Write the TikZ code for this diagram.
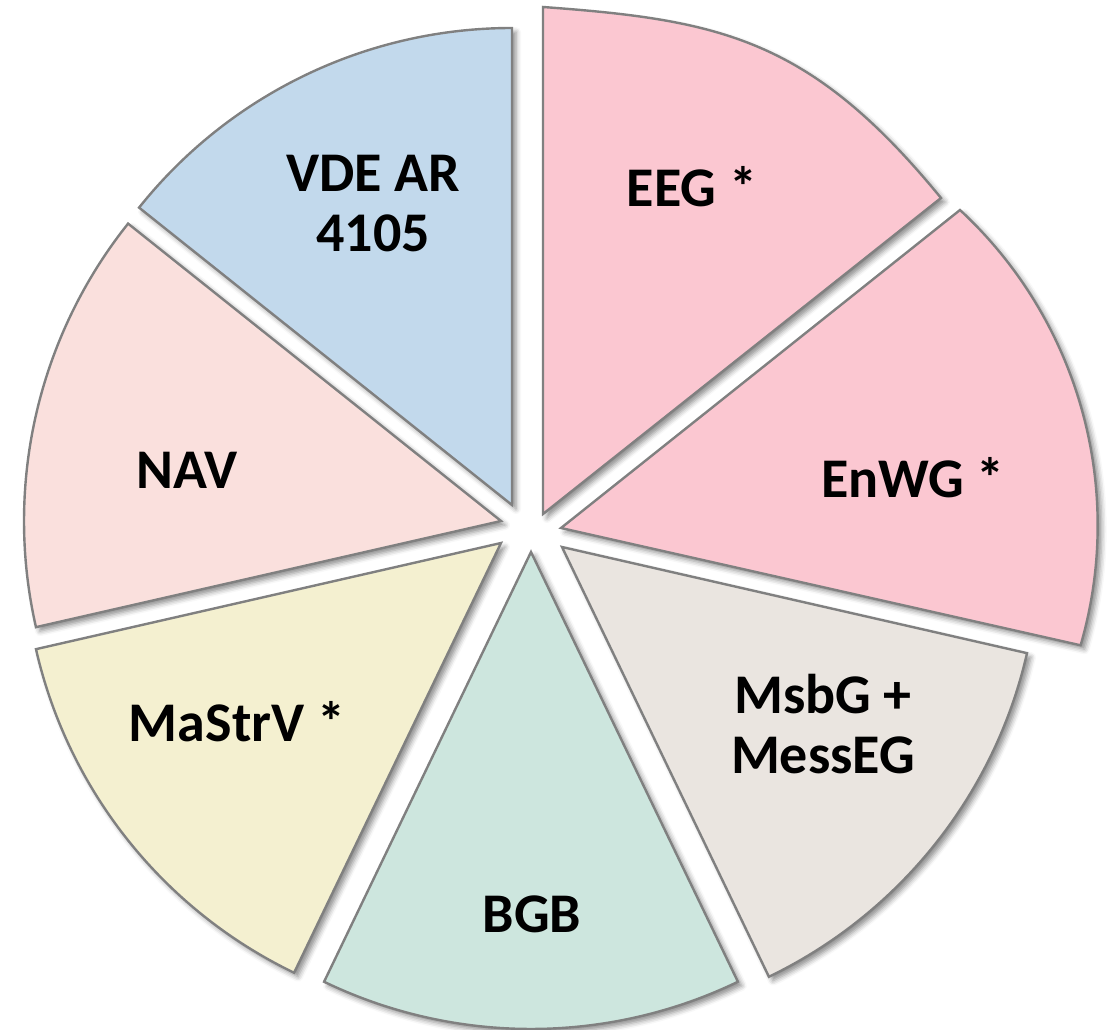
\documentclass[tikz,border=0pt]{standalone}
\usepackage{fontspec}
\setmainfont{Carlito}
\usetikzlibrary{shadows.blur}

\definecolor{edgegray}{RGB}{128,128,128}
\definecolor{cPink}{RGB}{251,199,209}
\definecolor{cVDE}{RGB}{194,217,236}
\definecolor{cNAV}{RGB}{250,224,221}
\definecolor{cMaStrV}{RGB}{244,240,208}
\definecolor{cBGB}{RGB}{205,230,222}
\definecolor{cMsbG}{RGB}{234,229,224}

\begin{document}
\begin{tikzpicture}[x=1pt,y=-1pt,
  slice/.style={draw=edgegray, line width=2.4pt, line join=miter,
    blur shadow={shadow xshift=4pt, shadow yshift=-4pt,
      shadow blur radius=5pt, shadow opacity=45}},
  lbl/.style={font=\fontsize{56}{60}\selectfont\bfseries, align=center,
    anchor=base, inner sep=0pt}]
\useasboundingbox (0,0) rectangle (1109,1030);

% slice centres (apexes)
\coordinate (aVDE) at (512,505);
\coordinate (aNAV) at (501,521);
\coordinate (aMaStrV) at (501,543);
\coordinate (aBGB) at (531,552);
\coordinate (aMsbG) at (562,547);
\coordinate (aEnWG) at (561,528);
\coordinate (aEEG) at (543,514);

% regular slices, radius 477, 360/7 degrees each
\draw[slice, fill=cVDE] (aVDE) -- ++(-90:477)
  arc[start angle=-90, end angle=-141.43, radius=477] -- cycle;
\draw[slice, fill=cNAV] (aNAV) -- ++(-141.43:477)
  arc[start angle=-141.43, end angle=-192.86, radius=477] -- cycle;
\draw[slice, fill=cMaStrV] (aMaStrV) -- ++(-192.86:477)
  arc[start angle=-192.86, end angle=-244.29, radius=477] -- cycle;
\draw[slice, fill=cBGB] (aBGB) -- ++(-244.29:477)
  arc[start angle=-244.29, end angle=-295.71, radius=477] -- cycle;
\draw[slice, fill=cMsbG] (aMsbG) -- ++(-295.71:477)
  arc[start angle=-295.71, end angle=-347.14, radius=477] -- cycle;

% enlarged slices
\draw[slice, fill=cPink] (aEnWG) -- (960,210)
  arc[start angle=-47.17, end angle=16.2, radius=430] -- cycle;
\draw[slice, fill=cPink] (aEEG) -- (543,7)
  .. controls (720,20) and (810,38) .. (941,198) -- cycle;

% labels (base anchor sits on the last line)
\node[lbl] (tVDE) at (373,251) {VDE AR\\4105};
\node[lbl] (tEEG) at (692,207) {EEG *};
\node[lbl] (tEnWG) at (913,497) {EnWG *};
\node[lbl] (tMsbG) at (823,773) {MsbG +\\MessEG};
\node[lbl] (tBGB) at (532,932) {BGB};
\node[lbl] (tMaStrV) at (237,741) {MaStrV *};
\node[lbl] (tNAV) at (187,488) {NAV};
\end{tikzpicture}
\end{document}
